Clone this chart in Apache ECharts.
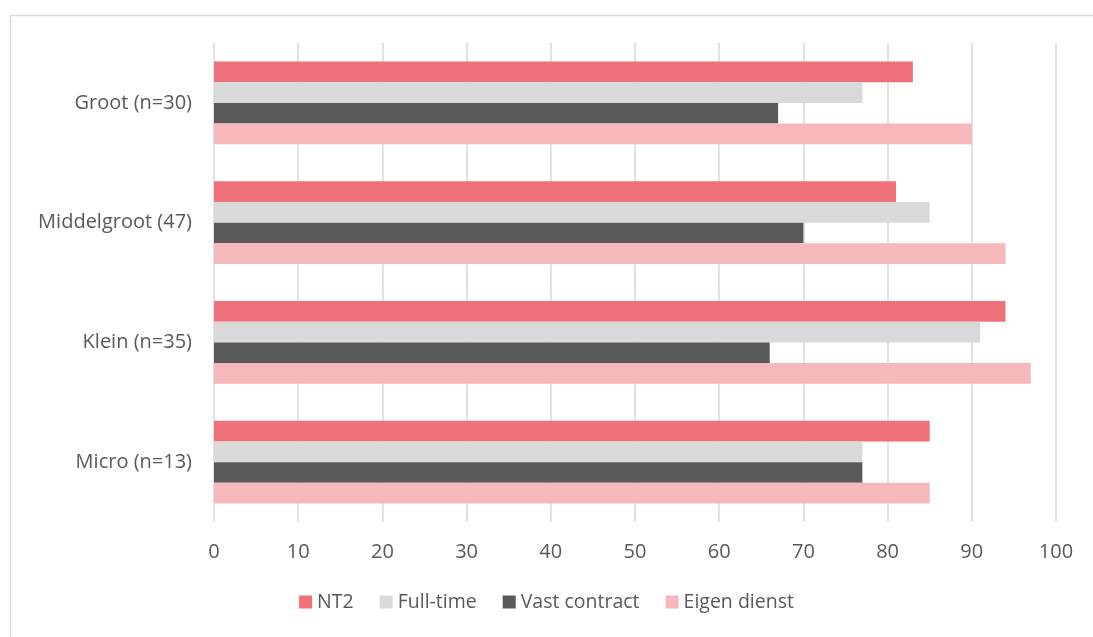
<!DOCTYPE html>
<html>
<head>
<meta charset="utf-8">
<script src="https://cdn.jsdelivr.net/npm/echarts@6/dist/echarts.min.js"></script>
<style>html,body{margin:0;padding:0;background:#fff}#c{width:1093px;height:637px}</style>
</head>
<body>
<div id="c"></div>
<script>
const categories = ['Groot (n=30)', 'Middelgroot (47)', 'Klein (n=35)', 'Micro (n=13)'];
const seriesNames = ['NT2', 'Full-time', 'Vast contract', 'Eigen dienst'];
const nt2 = [83, 81, 94, 85];
const fullTime = [77, 85, 91, 77];
const vastContract = [67, 70, 66, 77];
const eigenDienst = [90, 94, 97, 85];
const xTicks = [0, 10, 20, 30, 40, 50, 60, 70, 80, 90, 100];

const colors = ['#EE7078', '#D9D9D9', '#595959', '#F7B8BC'];
const values = [nt2, fullTime, vastContract, eigenDienst];
const font = '"Open Sans", "Noto Sans", sans-serif';

const chart = echarts.init(document.getElementById('c'));
chart.setOption({
  animation: false,
  graphic: [{
    type: 'rect', left: 8, top: 13,
    shape: { width: 1200, height: 800 },
    style: { fill: 'none', stroke: '#D9D9D9', lineWidth: 1.5 },
    silent: true
  }],
  grid: { left: 214, right: 37, top: 43, bottom: 115 },
  legend: {
    data: seriesNames,
    bottom: 20,
    left: 'center',
    itemWidth: 13, itemHeight: 13, itemGap: 26,
    icon: 'rect',
    textStyle: { color: '#595959', fontSize: 19.5, fontFamily: font }
  },
  xAxis: {
    type: 'value', min: xTicks[0], max: xTicks[xTicks.length - 1], interval: 10,
    axisLine: { show: false }, axisTick: { show: false },
    splitLine: { show: true, lineStyle: { color: '#D9D9D9', width: 1.5 } },
    axisLabel: { color: '#595959', fontSize: 20, fontFamily: font, margin: 20 }
  },
  yAxis: {
    type: 'category', data: categories, inverse: true,
    axisLine: { show: false }, axisTick: { show: false },
    axisLabel: { color: '#595959', fontSize: 20, fontFamily: font, margin: 22 }
  },
  series: seriesNames.map((n, i) => ({
    name: n, type: 'bar', data: values[i],
    itemStyle: { color: colors[i] },
    barGap: '0%', barCategoryGap: '31%'
  }))
});
</script>
</body>
</html>
